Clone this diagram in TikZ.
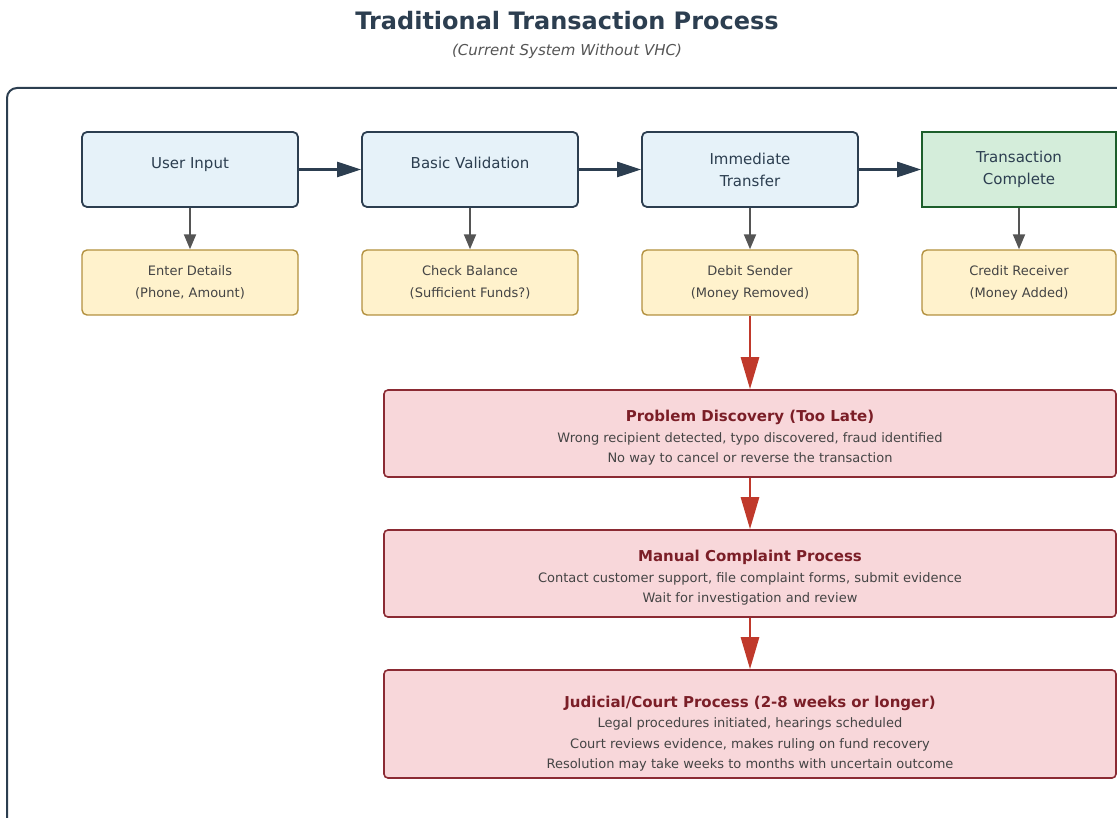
\documentclass[tikz,border=0pt]{standalone}
\usepackage{fontspec}
\setmainfont{DejaVu Sans}
\usetikzlibrary{arrows.meta}

\definecolor{navy}{HTML}{2C3E50}
\definecolor{bluefill}{HTML}{E6F2F9}
\definecolor{greenfill}{HTML}{D4EDDA}
\definecolor{greenline}{HTML}{1D5E2B}
\definecolor{yellowfill}{HTML}{FFF2CC}
\definecolor{yellowline}{HTML}{B3913F}
\definecolor{redfill}{HTML}{F8D7DA}
\definecolor{redline}{HTML}{8B2A33}
\definecolor{redtext}{HTML}{7B1E27}
\definecolor{redarrow}{HTML}{C0392B}
\definecolor{grayarrow}{HTML}{555555}
\definecolor{bodytext}{HTML}{444444}
\definecolor{subtext}{HTML}{555555}

% heading line inside a red box
\newcommand{\issuehead}[1]{{\fontsize{15}{20.5}\selectfont\bfseries\color{redtext}#1}}

\tikzset{
  stagebox/.style={draw=navy, fill=bluefill, line width=1.8pt, rounded corners=5pt,
    minimum width=216pt, minimum height=75pt, align=center, text=navy,
    font=\fontsize{15}{22}\selectfont},
  oneline/.style={text height=11pt, text depth=12pt},
  donebox/.style={stagebox, draw=greenline, fill=greenfill, rounded corners=0pt,
    minimum width=194pt},
  detailbox/.style={draw=yellowline, fill=yellowfill, line width=1.4pt, rounded corners=5pt,
    minimum width=216pt, minimum height=65pt, align=center, text=bodytext,
    font=\fontsize{13}{22}\selectfont},
  issuebox/.style={draw=redline, fill=redfill, line width=1.6pt, rounded corners=4pt,
    minimum width=732pt},
  issuetext/.style={align=center, text=bodytext, font=\fontsize{13}{20.5}\selectfont},
  flow/.style={draw=navy, line width=2.6pt, -{Triangle[length=24pt, width=15pt]}},
  sub/.style={draw=grayarrow, line width=2pt, -{Triangle[length=15pt, width=12pt]}},
  alarm/.style={draw=redarrow, line width=2.8pt, -{Triangle[length=32pt, width=18pt]}},
}

\begin{document}
\begin{tikzpicture}[x=1pt, y=-1pt]
  \useasboundingbox (0,0) rectangle (1117,818);

  % heading
  \node (title) at (567,21) {\fontsize{24}{28}\selectfont\bfseries\color{navy}Traditional Transaction Process};
  \node (subtitle) at (567,51) {\fontsize{15}{18}\selectfont\itshape\color{subtext}(Current System Without VHC)};

  % outer frame, running past the right and lower edges
  \begin{scope}
    \clip (0,0) rectangle (1117,818);
    \draw[navy, line width=2pt, rounded corners=10pt] (7,88) rectangle (1160,860);
  \end{scope}

  % main stages
  \node[stagebox, oneline] (input) at (190,169.5) {User Input};
  \node[stagebox, oneline] (valid) at (470,169.5) {Basic Validation};
  \node[stagebox] (transfer) at (750,169.5) {Immediate\\Transfer};
  \node[donebox] (complete) at (1019,169.5) {Transaction\\Complete};

  % details under each stage
  \node[detailbox] (enter) at (190,282.5) {Enter Details\\(Phone, Amount)};
  \node[detailbox] (balance) at (470,282.5) {Check Balance\\(Sufficient Funds?)};
  \node[detailbox] (debit) at (750,282.5) {Debit Sender\\(Money Removed)};
  \node[detailbox, minimum width=194pt] (credit) at (1019,282.5) {Credit Receiver\\(Money Added)};

  \draw[flow] (input) -- (valid);
  \draw[flow] (valid) -- (transfer);
  \draw[flow] (transfer) -- (complete);

  \draw[sub] (input) -- (enter);
  \draw[sub] (valid) -- (balance);
  \draw[sub] (transfer) -- (debit);
  \draw[sub] (complete) -- (credit);

  % recovery path
  \node[issuebox, minimum height=87pt] (discovery) at (750,433.5) {};
  \node[issuetext] (discoveryText) at (750,438) {\issuehead{Problem Discovery (Too Late)}\\
    Wrong recipient detected, typo discovered, fraud identified\\
    No way to cancel or reverse the transaction};

  \node[issuebox, minimum height=87pt] (complaint) at (750,573.5) {};
  \node[issuetext] (complaintText) at (750,578) {\issuehead{Manual Complaint Process}\\
    Contact customer support, file complaint forms, submit evidence\\
    Wait for investigation and review};

  \node[issuebox, minimum height=108pt] (court) at (750,724) {};
  \node[issuetext] (courtText) at (750,733.5) {\issuehead{Judicial/Court Process (2-8 weeks or longer)}\\
    Legal procedures initiated, hearings scheduled\\
    Court reviews evidence, makes ruling on fund recovery\\
    Resolution may take weeks to months with uncertain outcome};

  \draw[alarm] (debit) -- (discovery);
  \draw[alarm] (discovery) -- (complaint);
  \draw[alarm] (complaint) -- (court);
\end{tikzpicture}
\end{document}
